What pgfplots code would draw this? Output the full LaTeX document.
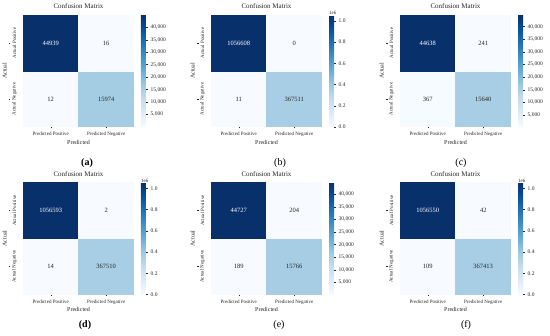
\documentclass[border=0pt]{standalone}
\usepackage{fontspec}
\setmainfont{Liberation Serif}
\usepackage{pgfplots}
\pgfplotsset{compat=1.18}
\pgfplotsset{
  colormap={blues}{rgb255=(247,251,255) rgb255=(222,235,247) rgb255=(198,219,239) rgb255=(158,202,225) rgb255=(107,174,214) rgb255=(66,146,198) rgb255=(33,113,181) rgb255=(8,81,156) rgb255=(8,48,107)},
  cm/.style={
    width=111pt, height=112pt, scale only axis,
    anchor=south west,
    xmin=-0.5, xmax=1.5, ymin=-0.5, ymax=1.5,
    axis line style={draw=none},
    xtick={0,1}, ytick={0,1},
    xticklabels={Predicted Positive, Predicted Negative},
    yticklabels={Actual Negative, Actual Positive},
    xtick pos=bottom, ytick pos=left,
    tick align=outside, major tick length=1.5pt,
    tick style={black!85, line width=0.4pt},
    ytick style={xshift=-12.5pt},
    ticklabel style={font=\fontsize{5}{6}\selectfont, text=black!85},
    xticklabel style={anchor=north, inner sep=0pt},
    xticklabel shift=3.5pt,
    yticklabel style={rotate=90, anchor=center, inner sep=0pt},
    yticklabel shift=7pt,
    xlabel={Predicted}, ylabel={Actual},
    label style={font=\fontsize{6}{7}\selectfont, text=black!85},
    xlabel style={at={(axis description cs:0.5,-0.137)}, anchor=center},
    ylabel style={at={(axis description cs:-0.165,0.5)}, anchor=center},
    title={Confusion Matrix},
    title style={at={(0.5,1)}, anchor=south, inner sep=0pt, yshift=0pt, font=\fontsize{7}{8}\selectfont, text=black!85},
    colormap name=blues,
    colorbar,
    colorbar shift/.style={xshift=7pt},
    colorbar style={at={(parent axis.north east)}, anchor=north west,
      width=5pt, axis line style={draw=none},
      scaled y ticks=false,
      ytick pos=right, tick align=outside, major tick length=2pt,
      tick style={black!85, line width=0.4pt},
      yticklabel style={font=\fontsize{5.5}{6}\selectfont, text=black!85, inner sep=0pt, anchor=west},
      yticklabel shift=2.5pt},
  },
  cbK/.style={colorbar style={ytick={5000,10000,15000,20000,25000,30000,35000,40000},
      yticklabels={{5,000},{10,000},{15,000},{20,000},{25,000},{30,000},{35,000},{40,000}}}},
  cbM/.style={colorbar style={ytick={0,200000,400000,600000,800000,1000000},
      yticklabels={0.0,0.2,0.4,0.6,0.8,1.0},
      extra description/.code={\node[anchor=south west, inner sep=0pt, font=\fontsize{5}{6}\selectfont, text=black!85] at (rel axis cs:0,1) {1e6};}}},
  wtxt/.style={draw=none, mark=none, nodes near coords, point meta=explicit symbolic, nodes near coords align=center,
      every node near coord/.append style={font=\fontsize{6.5}{7}\selectfont, text=white, inner sep=0pt}},
  dtxt/.style={draw=none, mark=none, nodes near coords, point meta=explicit symbolic, nodes near coords align=center,
      every node near coord/.append style={font=\fontsize{6.5}{7}\selectfont, text=black!85, inner sep=0pt}},
}
\begin{document}
\begin{tikzpicture}
\path[use as bounding box] (0,0) rectangle (550pt,336pt);
% (a)
\begin{axis}[cm, cbK, at={(23pt,209pt)}, point meta min=12, point meta max=44939]
\addplot[matrix plot*, mesh/cols=2, point meta=explicit] coordinates {(0,0)[12] (1,0)[15974] (0,1)[44939] (1,1)[16]};
\addplot[wtxt] coordinates {(0,1)[44939]};
\addplot[dtxt] coordinates {(1,1)[16] (0,0)[12] (1,0)[15974]};
\end{axis}
% (b)
\begin{axis}[cm, cbM, at={(211pt,209pt)}, point meta min=0, point meta max=1056608]
\addplot[matrix plot*, mesh/cols=2, point meta=explicit] coordinates {(0,0)[11] (1,0)[367511] (0,1)[1056608] (1,1)[0]};
\addplot[wtxt] coordinates {(0,1)[1056608]};
\addplot[dtxt] coordinates {(1,1)[0] (0,0)[11] (1,0)[367511]};
\end{axis}
% (c)
\begin{axis}[cm, cbK, at={(400pt,209pt)}, point meta min=241, point meta max=44638]
\addplot[matrix plot*, mesh/cols=2, point meta=explicit] coordinates {(0,0)[367] (1,0)[15640] (0,1)[44638] (1,1)[241]};
\addplot[wtxt] coordinates {(0,1)[44638]};
\addplot[dtxt] coordinates {(1,1)[241] (0,0)[367] (1,0)[15640]};
\end{axis}
% (d)
\begin{axis}[cm, cbM, at={(23pt,41.5pt)}, point meta min=2, point meta max=1056593]
\addplot[matrix plot*, mesh/cols=2, point meta=explicit] coordinates {(0,0)[14] (1,0)[367510] (0,1)[1056593] (1,1)[2]};
\addplot[wtxt] coordinates {(0,1)[1056593]};
\addplot[dtxt] coordinates {(1,1)[2] (0,0)[14] (1,0)[367510]};
\end{axis}
% (e)
\begin{axis}[cm, cbK, at={(211pt,41.5pt)}, point meta min=189, point meta max=44727]
\addplot[matrix plot*, mesh/cols=2, point meta=explicit] coordinates {(0,0)[189] (1,0)[15766] (0,1)[44727] (1,1)[204]};
\addplot[wtxt] coordinates {(0,1)[44727]};
\addplot[dtxt] coordinates {(1,1)[204] (0,0)[189] (1,0)[15766]};
\end{axis}
% (f)
\begin{axis}[cm, cbM, at={(400pt,41.5pt)}, point meta min=42, point meta max=1056550]
\addplot[matrix plot*, mesh/cols=2, point meta=explicit] coordinates {(0,0)[109] (1,0)[367413] (0,1)[1056550] (1,1)[42]};
\addplot[wtxt] coordinates {(0,1)[1056550]};
\addplot[dtxt] coordinates {(1,1)[42] (0,0)[109] (1,0)[367413]};
\end{axis}
\node[font=\bfseries\fontsize{10}{12}\selectfont] at (87pt,173pt) {(a)};
\node[font=\fontsize{10}{12}\selectfont] at (280pt,173pt) {(b)};
\node[font=\fontsize{10}{12}\selectfont] at (461pt,173pt) {(c)};
\node[font=\bfseries\fontsize{10}{12}\selectfont] at (85pt,11pt) {(d)};
\node[font=\fontsize{10}{12}\selectfont] at (279pt,11pt) {(e)};
\node[font=\fontsize{10}{12}\selectfont] at (466pt,11pt) {(f)};
\end{tikzpicture}
\end{document}
